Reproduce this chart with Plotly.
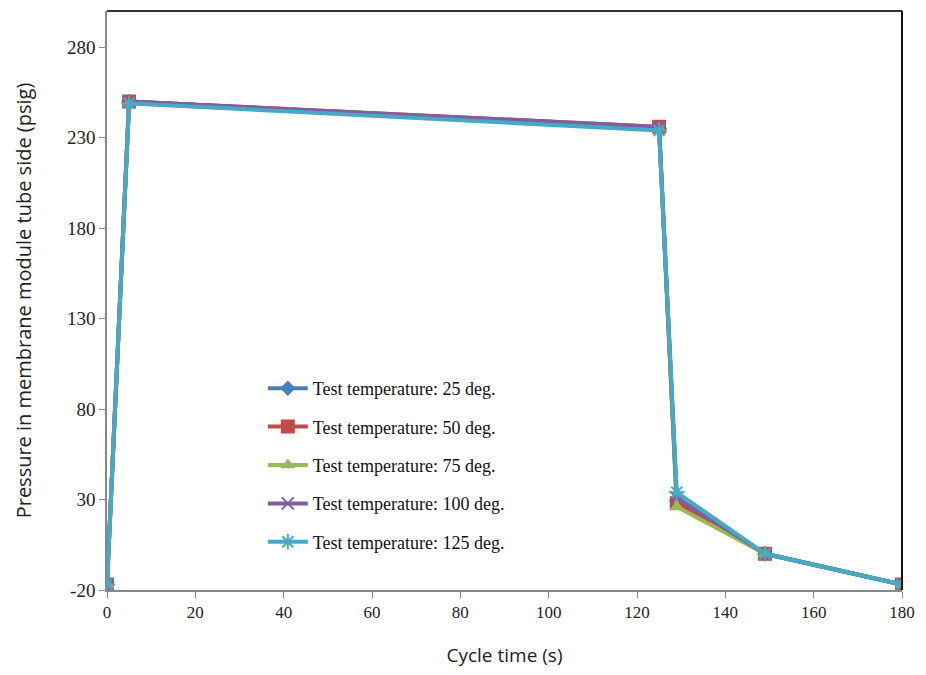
import plotly.graph_objects as go

cycle_time = [0, 5, 125, 129, 149, 180]
p_25 = [-17, 250, 235, 29, 0, -17]
p_50 = [-17, 250, 236, 28, 0, -17]
p_75 = [-17, 249, 235, 26, 0, -17]
p_100 = [-17, 250, 236, 31, 0, -17]
p_125 = [-17, 249, 234, 34, 0, -17]

y_ticks = [-20, 30, 80, 130, 180, 230, 280]
y_tick_labels = ["-20", "30", "80", "130", "180", "230", "280"]

names = ["Test temperature: 25 deg.", "Test temperature: 50 deg.", "Test temperature: 75 deg.",
         "Test temperature: 100 deg.", "Test temperature: 125 deg."]
series = [p_25, p_50, p_75, p_100, p_125]
colors = ["#4A7EBB", "#BE4B48", "#98B954", "#7D60A0", "#46AAC5"]
symbols = ["diamond", "square", "triangle-up", "x-thin", "asterisk"]
sizes = [12, 14, 13, 12, 13]

fig = go.Figure()
for i, (n, s, c, sym, sz) in enumerate(zip(names, series, colors, symbols, sizes)):
    mk = dict(symbol=sym, size=sz, color=c)
    if sym in ("x-thin", "asterisk"):
        mk["line"] = dict(color=c, width=2)
    fig.add_trace(go.Scatter(
        x=cycle_time, y=s, name=n, mode="lines+markers",
        line=dict(color=c, width=4), marker=mk, legendgroup=str(i),
    ))

serif = "Liberation Serif, Times New Roman, serif"
fig.update_layout(
    width=926, height=675,
    margin=dict(l=107, r=20, t=11, b=85),
    paper_bgcolor="white", plot_bgcolor="white",
    showlegend=True,
    legend=dict(
        x=0.196, y=0.38, xanchor="left", yanchor="top",
        font=dict(family=serif, size=18, color="#111111"),
        tracegroupgap=12, bgcolor="rgba(0,0,0,0)", itemwidth=40,
    ),
    xaxis=dict(
        range=[0, 180], tick0=0, dtick=20, showgrid=False, zeroline=False,
        showline=True, linecolor="#888888", linewidth=1.5, mirror=False,
        ticks="outside", ticklen=6, tickcolor="#888888",
        tickfont=dict(family=serif, size=17, color="#222222"),
        title=dict(text="Cycle time (s)", font=dict(family="Open Sans", size=19, color="#222222"), standoff=28),
    ),
    yaxis=dict(
        range=[-20, 300], tickmode="array", tickvals=y_ticks, ticktext=y_tick_labels,
        showgrid=False, zeroline=False,
        showline=True, linecolor="#888888", linewidth=1.5,
        ticks="outside", ticklen=6, tickcolor="#888888",
        tickfont=dict(family=serif, size=19, color="#222222"),
        title=dict(text="Pressure in membrane module tube side (psig)", font=dict(family="Open Sans", size=20, color="#222222"), standoff=30),
    ),
    shapes=[
        dict(type="line", xref="paper", yref="paper", x0=0, x1=1, y0=1, y1=1, line=dict(color="#333333", width=2)),
        dict(type="line", xref="paper", yref="paper", x0=1, x1=1, y0=0, y1=1, line=dict(color="#111111", width=2)),
    ],
)

fig.write_html("out.html")
